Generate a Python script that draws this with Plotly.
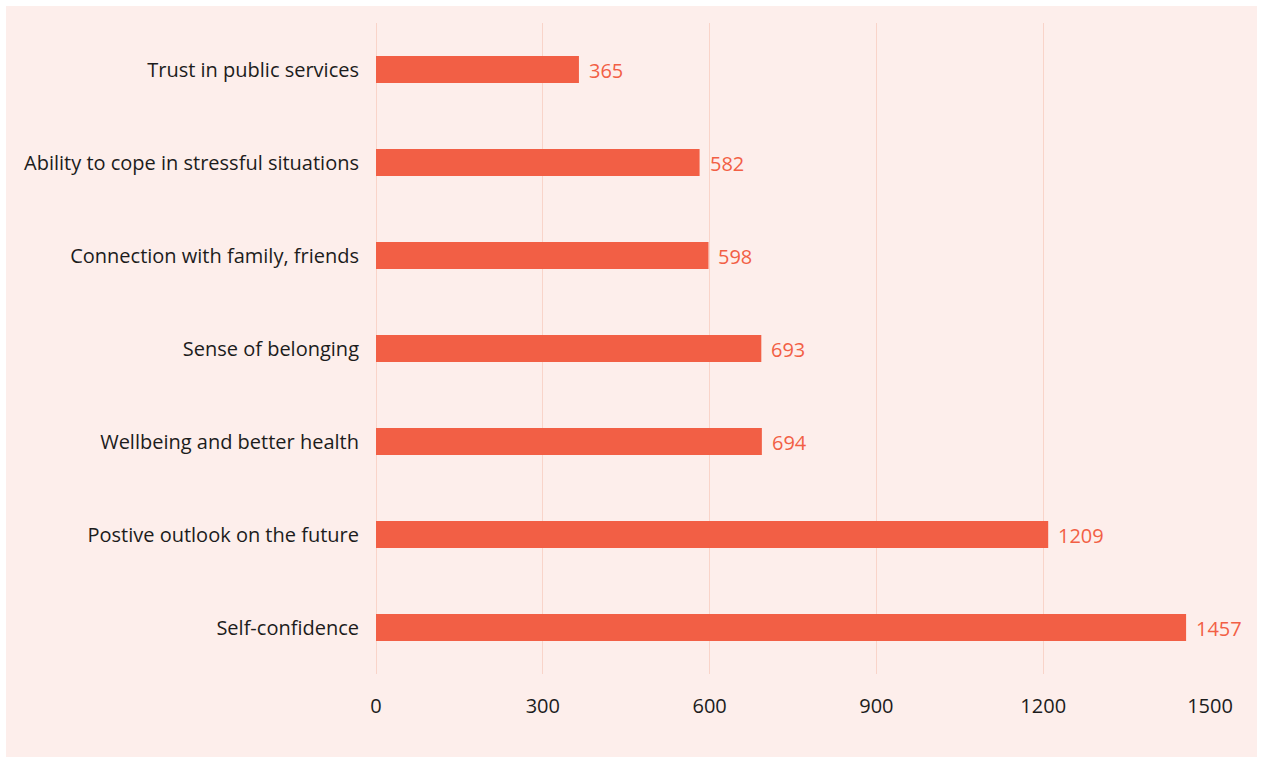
import plotly.graph_objects as go

# Survey outcomes and number of respondents reporting each
categories = [
    "Self-confidence",
    "Postive outlook on the future",
    "Wellbeing and better health",
    "Sense of belonging",
    "Connection with family, friends",
    "Ability to cope in stressful situations",
    "Trust in public services",
]
counts = [1457, 1209, 694, 693, 598, 582, 365]
x_ticks = [0, 300, 600, 900, 1200, 1500]

W, H = 1265, 758
ML, MR, MT, MB = 376, 55, 23, 84
PW, PH = W - ML - MR, H - MT - MB

BAR = "#f25f45"
BG = "#fdeeeb"
GRID = "#f9d4c9"
TEXT = "#1c1c1c"
FONT = "'Open Sans', Lato, sans-serif"

fig = go.Figure(
    go.Bar(
        x=counts,
        y=categories,
        orientation="h",
        marker=dict(color=BAR, line=dict(width=0)),
        width=0.29,
        hoverinfo="x+y",
    )
)

# value labels just past the end of each bar
for cat, val in zip(categories, counts):
    fig.add_annotation(
        x=val, y=cat, text=str(val), showarrow=False,
        xanchor="left", xshift=8, yshift=-1,
        font=dict(family=FONT, size=20, color=BAR),
    )

# pink card behind the chart
fig.add_shape(
    type="rect", xref="paper", yref="paper", layer="below",
    x0=(6 - ML) / PW, x1=(1257 - ML) / PW,
    y0=(MT + PH - 757) / PH, y1=(MT + PH - 6) / PH,
    fillcolor=BG, line=dict(width=0),
)

fig.update_layout(
    width=W, height=H,
    margin=dict(l=ML, r=MR, t=MT, b=MB, pad=0),
    paper_bgcolor="white",
    plot_bgcolor="rgba(0,0,0,0)",
    showlegend=False,
    font=dict(family=FONT, size=20, color=TEXT),
    xaxis=dict(
        range=[0, 1500],
        tickvals=x_ticks,
        ticktext=[str(t) for t in x_ticks],
        showgrid=True, gridcolor=GRID, gridwidth=1,
        zeroline=True, zerolinecolor=GRID, zerolinewidth=1,
        showline=False, ticks="",
        ticklabelstandoff=18,
        tickfont=dict(family=FONT, size=20, color=TEXT),
    ),
    yaxis=dict(
        categoryorder="array", categoryarray=categories,
        showgrid=False, zeroline=False, showline=False, ticks="",
        ticklabelstandoff=16,
        tickfont=dict(family=FONT, size=20, color=TEXT),
    ),
)

fig.write_html("out.html")
